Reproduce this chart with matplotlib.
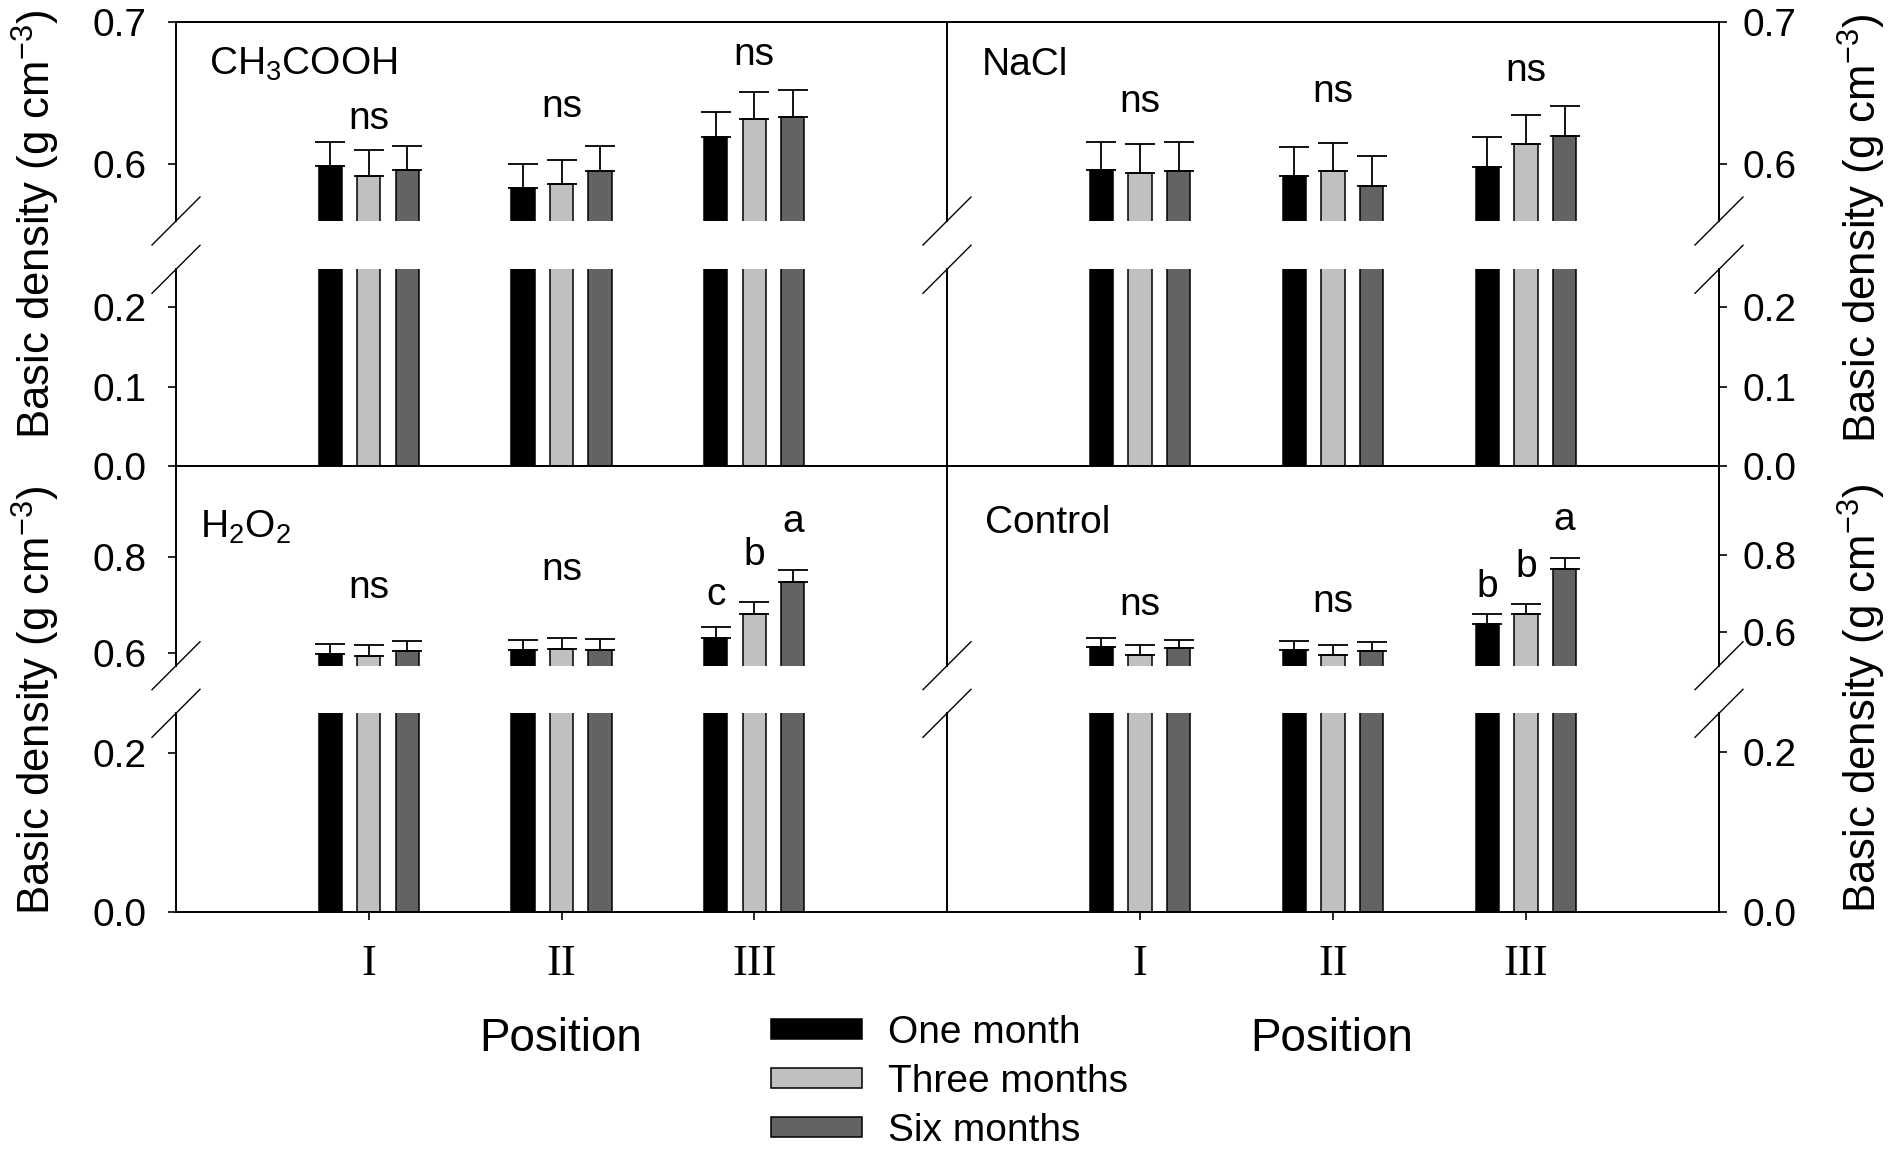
import matplotlib
matplotlib.use("Agg")
import matplotlib.pyplot as plt
from matplotlib.lines import Line2D
import numpy as np

plt.rcParams["font.family"] = ["Liberation Sans", "DejaVu Sans"]
plt.rcParams["mathtext.fontset"] = "custom"
plt.rcParams["mathtext.rm"] = "Liberation Sans"
plt.rcParams["mathtext.it"] = "Liberation Sans:italic"
plt.rcParams["mathtext.bf"] = "Liberation Sans:bold"

positions = ["I", "II", "III"]
periods = ["One month", "Three months", "Six months"]
colors = ["#000000", "#c0c0c0", "#636363"]

# basic density (g cm-3), rows = one / three / six months, cols = position I, II, III
ch3cooh_mean = [[0.599, 0.583, 0.619], [0.592, 0.586, 0.632], [0.596, 0.595, 0.633]]
ch3cooh_sd = [[0.017, 0.017, 0.018], [0.018, 0.017, 0.019], [0.017, 0.018, 0.019]]
ch3cooh_sig = ["ns", "ns", "ns"]
ch3cooh_sig_y = [0.632, 0.640, 0.677]

nacl_mean = [[0.596, 0.592, 0.598], [0.594, 0.595, 0.614], [0.595, 0.585, 0.620]]
nacl_sd = [[0.020, 0.020, 0.021], [0.020, 0.020, 0.021], [0.021, 0.021, 0.021]]
nacl_sig = ["ns", "ns", "ns"]
nacl_sig_y = [0.644, 0.651, 0.666]

h2o2_mean = [[0.597, 0.606, 0.631], [0.594, 0.608, 0.681], [0.604, 0.606, 0.748]]
h2o2_sd = [[0.021, 0.022, 0.023], [0.023, 0.023, 0.025], [0.022, 0.023, 0.026]]
h2o2_sig = ["ns", "ns", ["c", "b", "a"]]
h2o2_sig_y = [0.735, 0.773, [0.721, 0.804, 0.874]]

control_mean = [[0.560, 0.552, 0.620], [0.539, 0.539, 0.647], [0.556, 0.549, 0.763]]
control_sd = [[0.023, 0.023, 0.025], [0.027, 0.027, 0.026], [0.023, 0.023, 0.029]]
control_sig = ["ns", "ns", ["b", "b", "a"]]
control_sig_y = [0.669, 0.678, [0.717, 0.769, 0.892]]

W, H = 1890, 1150
fig = plt.figure(figsize=(W / 100, H / 100), dpi=100)


def px_axes(x0, y0, x1, y1):
    return fig.add_axes([x0 / W, 1 - y1 / H, (x1 - x0) / W, (y1 - y0) / H])


col_px = [(176, 947), (947, 1719)]
row_px = [((22.3, 221), (269.3, 466)), ((466, 665.7), (713.3, 911.7))]

panels = [
    dict(name="CH$_3$COOH", mean=ch3cooh_mean, sd=ch3cooh_sd, sig=ch3cooh_sig, sig_y=ch3cooh_sig_y,
         row=0, col=0, up=(0.56, 0.70), up_ticks=[0.6, 0.7], low=0.248, low_ticks=[0.0, 0.1, 0.2],
         name_xy=(209, 75)),
    dict(name="NaCl", mean=nacl_mean, sd=nacl_sd, sig=nacl_sig, sig_y=nacl_sig_y,
         row=0, col=1, up=(0.56, 0.70), up_ticks=[0.6, 0.7], low=0.248, low_ticks=[0.0, 0.1, 0.2],
         name_xy=(982, 75)),
    dict(name="H$_2$O$_2$", mean=h2o2_mean, sd=h2o2_sd, sig=h2o2_sig, sig_y=h2o2_sig_y,
         row=1, col=0, up=(0.5735, 0.99), up_ticks=[0.6, 0.8], low=0.25, low_ticks=[0.0, 0.2],
         name_xy=(200, 538)),
    dict(name="Control", mean=control_mean, sd=control_sd, sig=control_sig, sig_y=control_sig_y,
         row=1, col=1, up=(0.5106, 1.033), up_ticks=[0.6, 0.8], low=0.248, low_ticks=[0.0, 0.2],
         name_xy=(985, 533)),
]

x = np.arange(1, len(positions) + 1)
offsets = [-0.2, 0.0, 0.2]
legend_handles = []

for p in panels:
    x0, x1 = col_px[p["col"]]
    (uy0, uy1), (ly0, ly1) = row_px[p["row"]]
    ax_up = px_axes(x0, uy0, x1, uy1)
    ax_lo = px_axes(x0, ly0, x1, ly1)
    for k in range(3):
        xs = x + offsets[k]
        for ax in (ax_up, ax_lo):
            b = ax.bar(xs, p["mean"][k], width=0.12, color=colors[k], edgecolor="black", linewidth=1.1)
        if len(legend_handles) < 3:
            legend_handles.append(b)
        ax_up.errorbar(xs, p["mean"][k], yerr=[np.zeros(3), p["sd"][k]], fmt="none",
                       ecolor="black", elinewidth=1.3, capsize=11, capthick=1.3)

    ax_up.set_ylim(*p["up"])
    ax_lo.set_ylim(0, p["low"])
    ax_up.set_yticks(p["up_ticks"])
    ax_lo.set_yticks(p["low_ticks"])
    for ax in (ax_up, ax_lo):
        ax.set_xlim(0, 4)
        ax.yaxis.set_major_formatter(matplotlib.ticker.FormatStrFormatter("%.1f"))
        ax.tick_params(axis="y", direction="out", length=6, width=1.2, labelsize=28,
                       pad=11 if p["col"] == 1 else 15)
        ax.tick_params(axis="x", direction="out", length=6, width=1.2)
        for s in ax.spines.values():
            s.set_linewidth(1.4)
        if p["col"] == 1:
            ax.yaxis.tick_right()
    ax_up.spines["bottom"].set_visible(False)
    ax_lo.spines["top"].set_visible(False)
    ax_up.tick_params(axis="x", bottom=False, labelbottom=False)
    ax_lo.set_xticks(x)
    if p["row"] == 1:
        ax_lo.set_xticklabels(positions, fontsize=32, family="Liberation Serif")
        ax_lo.tick_params(axis="x", pad=17)
    else:
        ax_lo.set_xticklabels([])

    # significance letters
    for g in range(3):
        lab = p["sig"][g]
        if isinstance(lab, list):
            for k in range(3):
                ax_up.text(x[g] + offsets[k], p["sig_y"][g][k], lab[k], ha="center", va="center",
                           fontsize=28, clip_on=False)
        else:
            ax_up.text(x[g], p["sig_y"][g], lab, ha="center", va="center", fontsize=28, clip_on=False)

    nx, ny = p["name_xy"]
    fig.text(nx / W, 1 - ny / H, p["name"], ha="left", va="baseline", fontsize=28)

# break marks
for bx in (176, 947, 1719):
    for by in (221, 269.3, 665.7, 713.3):
        fig.add_artist(Line2D([(bx - 24) / W, (bx + 24) / W], [1 - (by + 24) / H, 1 - (by - 24) / H],
                              color="black", lw=1.0, transform=fig.transFigure))

ylab = "Basic density (g cm$^{-3}$)"
fig.text(36 / W, 1 - 224 / H, ylab, rotation=90, ha="center", va="center", fontsize=31.5)
fig.text(36 / W, 1 - 700 / H, ylab, rotation=90, ha="center", va="center", fontsize=31.5)
fig.text(1862 / W, 1 - 228 / H, ylab, rotation=90, ha="center", va="center", fontsize=31.5)
fig.text(1862 / W, 1 - 698 / H, ylab, rotation=90, ha="center", va="center", fontsize=31.5)

fig.text(560.5 / W, 1 - 1039 / H, "Position", ha="center", va="center", fontsize=33)
fig.text(1332 / W, 1 - 1039 / H, "Position", ha="center", va="center", fontsize=33)

fig.legend(legend_handles, periods, loc="upper left", bbox_to_anchor=(771 / W, 1 - 1015 / H),
           frameon=False, fontsize=28, handlelength=2.35, handleheight=0.42, handletextpad=0.65,
           labelspacing=0.33, borderpad=0, borderaxespad=0)

fig.savefig("out.png", dpi=100)
